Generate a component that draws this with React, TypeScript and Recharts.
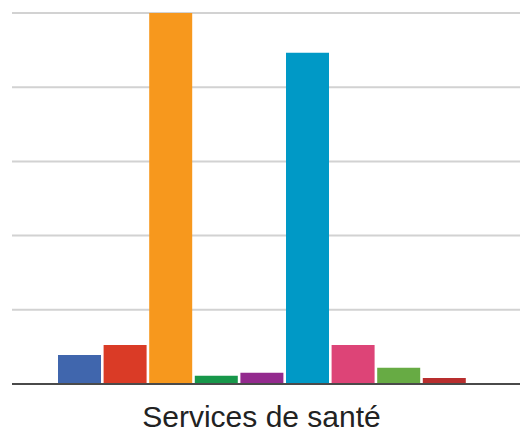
import React from "react";
import { BarChart, Bar, XAxis, YAxis, CartesianGrid } from "recharts";

const categories = ["Services de santé"];
const seriesKeys = ["s1", "s2", "s3", "s4", "s5", "s6", "s7", "s8", "s9"];
const seriesValues = [7.8, 10.5, 100, 2.2, 3.0, 89.3, 10.5, 4.4, 1.6];
const seriesColors = [
  "#4066ad",
  "#da3b26",
  "#f7981d",
  "#17974a",
  "#932a8e",
  "#0099c6",
  "#dd4477",
  "#67ab44",
  "#b82e2e",
];
const yTicks = [0, 20, 40, 60, 80, 100];

const data = categories.map((name) => {
  const row: Record<string, string | number> = { name };
  seriesKeys.forEach((k, i) => {
    row[k] = seriesValues[i];
  });
  return row;
});

export default function App() {
  return (
    <div style={{ position: "fixed", left: 0, top: 0, background: "#fff" }}>
      <BarChart
        width={520}
        height={432}
        data={data}
        margin={{ top: 13, right: 0, bottom: 0, left: 12 }}
        barSize={43}
        barGap={2.6}
      >
        <CartesianGrid vertical={false} stroke="#d2d2d2" strokeWidth={2} />
        <YAxis hide domain={[0, 100]} ticks={yTicks} />
        <XAxis
          dataKey="name"
          height={48}
          padding={{ left: 0, right: 9 }}
          axisLine={{ stroke: "#4a4a4a", strokeWidth: 2 }}
          tickLine={false}
          tickSize={0}
          tickMargin={22}
          tick={{ fontSize: 30, fill: "#222", fontFamily: "Liberation Sans, Arial, sans-serif" }}
        />
        {seriesKeys.map((k, i) => (
          <Bar key={k} dataKey={k} fill={seriesColors[i]} isAnimationActive={false} />
        ))}
      </BarChart>
    </div>
  );
}
